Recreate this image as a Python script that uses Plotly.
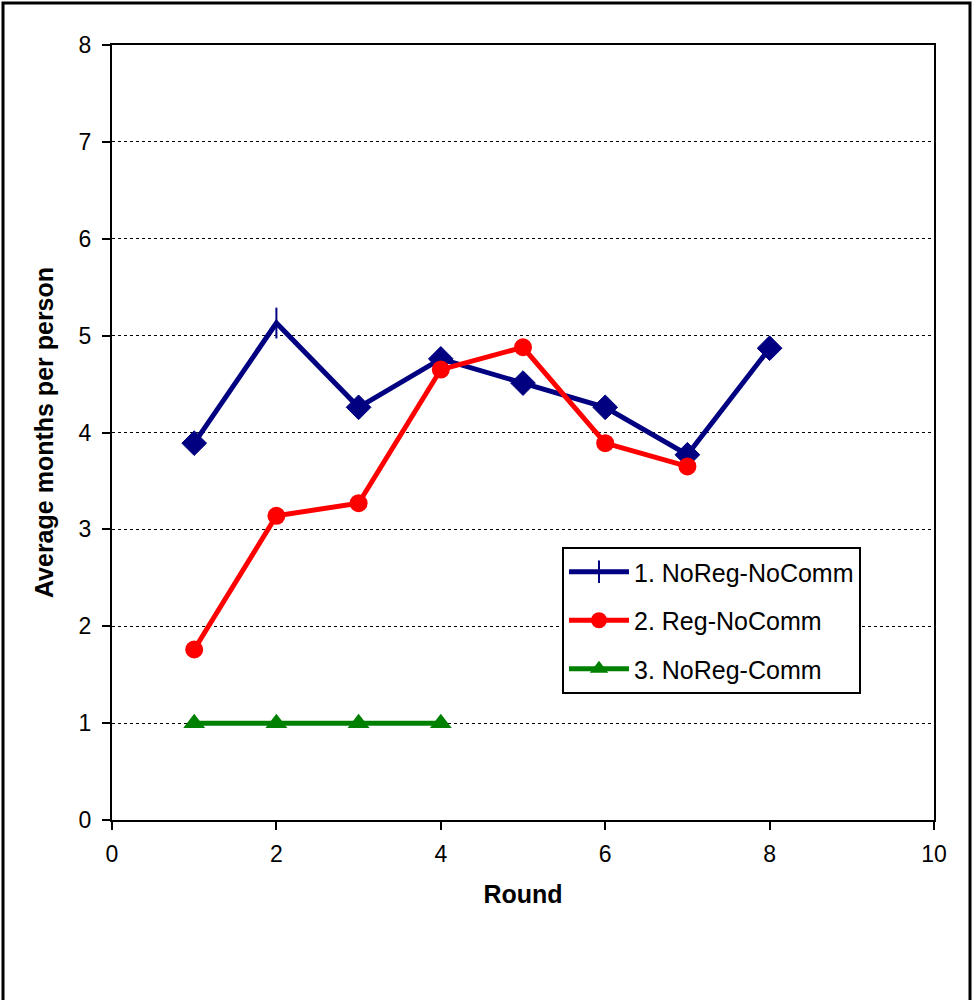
import plotly.graph_objects as go

rounds_1 = [1, 2, 3, 4, 5, 6, 7, 8]
noreg_nocomm = [3.89, 5.13, 4.26, 4.76, 4.51, 4.26, 3.77, 4.87]
rounds_2 = [1, 2, 3, 4, 5, 6, 7]
reg_nocomm = [1.76, 3.14, 3.27, 4.65, 4.88, 3.89, 3.65]
rounds_3 = [1, 2, 3, 4]
noreg_comm = [1, 1, 1, 1]

names = ["1. NoReg-NoComm", "2. Reg-NoComm", "3. NoReg-Comm"]
x_ticks = [0, 2, 4, 6, 8, 10]
y_ticks = [0, 1, 2, 3, 4, 5, 6, 7, 8]

navy = "#000080"
red = "#FF0000"
green = "#008000"
FONT = "Liberation Sans, Arial, sans-serif"

fig = go.Figure()
# line
fig.add_trace(go.Scatter(
    x=rounds_1, y=noreg_nocomm, mode="lines", name=names[0],
    line=dict(color=navy, width=5), showlegend=False, legendgroup="a"))
# diamond markers (all except round 2)
dia_x = [x for i, x in enumerate(rounds_1) if i != 1]
dia_y = [y for i, y in enumerate(noreg_nocomm) if i != 1]
fig.add_trace(go.Scatter(
    x=dia_x, y=dia_y, mode="markers", name=names[0], showlegend=False, legendgroup="a",
    marker=dict(symbol="diamond", size=19, color=navy, opacity=1,
                line=dict(color=navy, width=1))))
# plus-like marker at round 2
fig.add_trace(go.Scatter(
    x=[rounds_1[1]], y=[noreg_nocomm[1]], mode="markers", name=names[0],
    showlegend=False, legendgroup="a",
    marker=dict(symbol="line-ns", size=22, color=navy, opacity=1,
                line=dict(color=navy, width=2))))
# legend entry
fig.add_trace(go.Scatter(
    x=[None], y=[None], mode="lines+markers", name=names[0], legendgroup="a",
    line=dict(color=navy, width=5),
    marker=dict(symbol="line-ns", size=18, color=navy, opacity=1,
                line=dict(color=navy, width=2))))
fig.add_trace(go.Scatter(
    x=rounds_2, y=reg_nocomm, mode="lines+markers", name=names[1], legendgroup="b",
    line=dict(color=red, width=5),
    marker=dict(symbol="circle", size=18, color=red, opacity=1)))
fig.add_trace(go.Scatter(
    x=rounds_3, y=noreg_comm, mode="lines+markers", name=names[2], legendgroup="c",
    line=dict(color=green, width=5),
    marker=dict(symbol="triangle-up", size=19, color=green, opacity=1)))

L, R, T, B = 112, 38, 45, 180
W, H = 972, 1000
pw, ph = W - L - R, H - T - B

fig.update_layout(
    width=W, height=H,
    margin=dict(l=L, r=R, t=T, b=B),
    paper_bgcolor="white", plot_bgcolor="white",
    font=dict(family=FONT, size=24, color="black"),
    xaxis=dict(range=[0, 10], tickvals=x_ticks, ticks="outside", ticklen=8, tickwidth=2,
               tickcolor="black", showline=True, linecolor="black", linewidth=2, mirror=True,
               showgrid=False, zeroline=False, tickfont=dict(size=23), ticklabelstandoff=4,
               title=dict(text="<b>Round</b>", font=dict(size=25), standoff=20)),
    yaxis=dict(range=[0, 8], tickvals=y_ticks, ticks="outside", ticklen=8, tickwidth=2,
               tickcolor="black", showline=True, linecolor="black", linewidth=2, mirror=True,
               showgrid=True, gridcolor="black", griddash="dot", gridwidth=1, zeroline=False,
               tickfont=dict(size=23), ticklabelstandoff=6,
               title=dict(text="<b>Average months per person</b>", font=dict(size=25), standoff=18)),
    legend=dict(x=(562 - L) / pw, y=(H - B - 547) / ph, xanchor="left", yanchor="top",
                bordercolor="black", borderwidth=2, bgcolor="white",
                font=dict(size=25), itemwidth=60, tracegroupgap=13, traceorder="grouped"),
    shapes=[dict(type="rect", xref="paper", yref="paper",
                 x0=(3 - L) / pw, x1=(970 - L) / pw,
                 y0=(H - B - 1010) / ph, y1=(H - B - 3) / ph,
                 line=dict(color="black", width=3), fillcolor="rgba(0,0,0,0)", layer="below")],
)
fig.write_html("out.html", post_script="document.body.style.margin='0';",
               config={"displayModeBar": False})
